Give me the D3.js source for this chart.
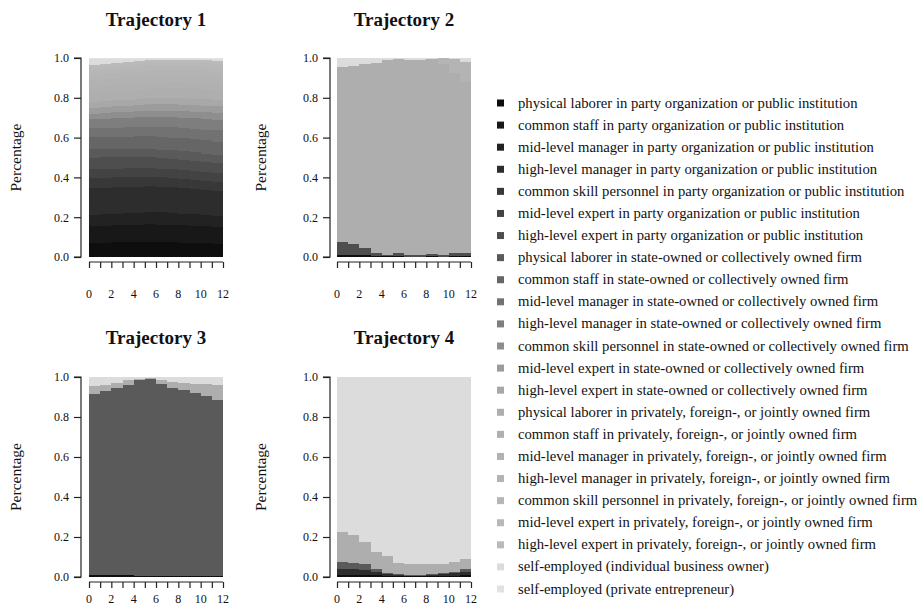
<!DOCTYPE html>
<html><head><meta charset="utf-8">
<script src="https://cdn.jsdelivr.net/npm/d3@7"></script>
<style>
body{margin:0;background:#fff;}
svg text{font-family:"Liberation Serif","Times New Roman",serif;fill:#111;}
</style></head>
<body><svg id="chart" width="921" height="615"></svg>
<script>
// ---------------- DATA ----------------
const timeTicks = [0,1,2,3,4,5,6,7,8,9,10,11,12];
const timeLabels = [0,2,4,6,8,10,12];
const yTicks = [0,0.2,0.4,0.6,0.8,1.0];
const titles = ["Trajectory 1","Trajectory 2","Trajectory 3","Trajectory 4"];
const states = [
 "physical laborer in party organization or public institution",
 "common staff in party organization or public institution",
 "mid-level manager in party organization or public institution",
 "high-level manager in party organization or public institution",
 "common skill personnel in party organization or public institution",
 "mid-level expert in party organization or public institution",
 "high-level expert in party organization or public institution",
 "physical laborer in state-owned or collectively owned firm",
 "common staff in state-owned or collectively owned firm",
 "mid-level manager in state-owned or collectively owned firm",
 "high-level manager in state-owned or collectively owned firm",
 "common skill personnel in state-owned or collectively owned firm",
 "mid-level expert in state-owned or collectively owned firm",
 "high-level expert in state-owned or collectively owned firm",
 "physical laborer in privately, foreign-, or jointly owned firm",
 "common staff in privately, foreign-, or jointly owned firm",
 "mid-level manager in privately, foreign-, or jointly owned firm",
 "high-level manager in privately, foreign-, or jointly owned firm",
 "common skill personnel in privately, foreign-, or jointly owned firm",
 "mid-level expert in privately, foreign-, or jointly owned firm",
 "high-level expert in privately, foreign-, or jointly owned firm",
 "self-employed (individual business owner)",
 "self-employed (private entrepreneur)"
];
const stateColors = ["#0e0e0e","#181818","#222222","#2d2d2d","#383838","#434343","#4e4e4e","#5a5a5a",
 "#666666","#727272","#7e7e7e","#8e8e8e","#9c9c9c","#a8a8a8","#aeaeae","#b0b0b0","#b2b2b2","#b4b4b4",
 "#b6b6b6","#b8b8b8","#bababa","#dcdcdc","#e2e2e2"];

// each: [stateIndex, values for 12 periods]
const traj1 = [
 [0,[0.070,0.072,0.074,0.076,0.077,0.077,0.076,0.075,0.073,0.071,0.069,0.067]],
 [1,[0.085,0.086,0.087,0.088,0.089,0.089,0.089,0.088,0.087,0.086,0.085,0.084]],
 [2,[0.058,0.059,0.060,0.061,0.061,0.062,0.062,0.061,0.060,0.059,0.058,0.057]],
 [3,[0.132,0.132,0.133,0.133,0.133,0.132,0.131,0.130,0.129,0.128,0.127,0.126]],
 [4,[0.050,0.050,0.050,0.050,0.049,0.049,0.048,0.048,0.047,0.047,0.046,0.046]],
 [5,[0.046,0.046,0.045,0.045,0.045,0.044,0.044,0.043,0.043,0.042,0.042,0.041]],
 [6,[0.058,0.057,0.057,0.056,0.056,0.055,0.055,0.054,0.054,0.053,0.053,0.052]],
 [7,[0.042,0.042,0.042,0.042,0.042,0.042,0.042,0.042,0.042,0.042,0.042,0.042]],
 [8,[0.060,0.061,0.062,0.063,0.064,0.065,0.065,0.065,0.066,0.066,0.066,0.066]],
 [9,[0.045,0.046,0.047,0.048,0.049,0.050,0.051,0.052,0.053,0.054,0.055,0.056]],
 [10,[0.045,0.046,0.047,0.048,0.048,0.049,0.050,0.051,0.052,0.053,0.054,0.055]],
 [11,[0.030,0.030,0.031,0.031,0.032,0.032,0.032,0.033,0.033,0.033,0.033,0.033]],
 [12,[0.030,0.030,0.031,0.031,0.031,0.032,0.032,0.032,0.032,0.033,0.033,0.033]],
 [13,[0.030,0.031,0.031,0.031,0.032,0.032,0.032,0.032,0.033,0.033,0.033,0.033]],
 [14,[0.045,0.045,0.046,0.046,0.047,0.047,0.047,0.048,0.048,0.048,0.048,0.048]],
 [15,[0.030,0.030,0.031,0.031,0.031,0.032,0.032,0.032,0.032,0.032,0.032,0.032]],
 [16,[0.035,0.035,0.035,0.036,0.036,0.036,0.036,0.037,0.037,0.037,0.037,0.037]],
 [17,[0.025,0.025,0.025,0.026,0.026,0.026,0.026,0.026,0.026,0.026,0.026,0.026]],
 [18,[0.020,0.020,0.021,0.021,0.021,0.021,0.022,0.022,0.022,0.022,0.022,0.022]],
 [19,[0.015,0.015,0.016,0.016,0.016,0.016,0.016,0.016,0.016,0.016,0.016,0.016]],
 [20,[0.014,0.014,0.014,0.015,0.015,0.015,0.015,0.015,0.015,0.015,0.015,0.015]],
 [21,[0.030,0.026,0.022,0.018,0.014,0.010,0.008,0.006,0.006,0.007,0.009,0.011]],
 [22,[0.005,0.004,0.004,0.003,0.003,0.002,0.002,0.002,0.002,0.002,0.003,0.004]]
];
const traj2 = [
 [0,[0.010,0.010,0.008,0.005,0.003,0.003,0.002,0.002,0.003,0.002,0.003,0.003]],
 [6,[0.065,0.055,0.037,0.015,0.007,0.017,0.008,0.008,0.012,0.008,0.017,0.017]],
 [14,[0.880,0.895,0.925,0.955,0.980,0.975,0.980,0.980,0.980,0.960,0.905,0.860]],
 [17,[0.000,0.000,0.000,0.000,0.000,0.000,0.000,0.000,0.000,0.030,0.070,0.100]],
 [21,[0.045,0.040,0.030,0.025,0.010,0.005,0.010,0.010,0.005,0.000,0.005,0.020]]
];
const traj3 = [
 [0,[0.012,0.012,0.011,0.008,0.007,0.006,0.006,0.006,0.006,0.007,0.007,0.007]],
 [7,[0.905,0.916,0.934,0.952,0.976,0.982,0.961,0.941,0.931,0.913,0.898,0.876]],
 [14,[0.036,0.032,0.025,0.025,0.007,0.007,0.018,0.028,0.033,0.045,0.060,0.077]],
 [21,[0.047,0.040,0.030,0.015,0.010,0.005,0.015,0.025,0.030,0.035,0.035,0.040]]
];
const traj4 = [
 [0,[0.012,0.012,0.010,0.008,0.005,0.004,0.003,0.003,0.004,0.005,0.006,0.008]],
 [3,[0.030,0.030,0.025,0.015,0.008,0.005,0.003,0.003,0.006,0.010,0.012,0.017]],
 [7,[0.035,0.030,0.028,0.017,0.007,0.006,0.004,0.004,0.005,0.007,0.009,0.015]],
 [14,[0.150,0.138,0.114,0.087,0.085,0.057,0.053,0.053,0.048,0.041,0.046,0.048]],
 [21,[0.773,0.790,0.823,0.873,0.895,0.928,0.937,0.937,0.937,0.937,0.927,0.912]]
];
const trajectories = [traj1, traj2, traj3, traj4];

// ---------------- LAYOUT ----------------
const svg = d3.select("#chart");
const panels = [
 {x0:89, x1:223, y0:58, y1:257, ax:81, titleY:26, labY:298, ylabX:21},
 {x0:337, x1:471, y0:58, y1:257, ax:330, titleY:26, labY:298, ylabX:266},
 {x0:89, x1:223, y0:377, y1:577, ax:81, titleY:344, labY:603, ylabX:21},
 {x0:337, x1:471, y0:377, y1:577, ax:330, titleY:344, labY:603, ylabX:266}
];
const keys = d3.range(states.length);

panels.forEach((p, pi) => {
  const g = svg.append("g");
  const x = d3.scaleLinear().domain([0,12]).range([p.x0, p.x1]);
  const y = d3.scaleLinear().domain([0,1]).range([p.y1, p.y0]);

  const series = trajectories[pi];
  const rows = d3.range(12).map(t => {
    const r = {t: t};
    keys.forEach(k => r[k] = 0);
    series.forEach(([k, vals]) => r[k] = vals[t]);
    return r;
  });
  const ext = rows.concat([Object.assign({}, rows[11], {t:12})]);
  const stacked = d3.stack().keys(keys).offset(d3.stackOffsetExpand)(ext);
  const area = d3.area().curve(d3.curveStepAfter)
    .x(d => x(d.data.t)).y0(d => y(d[0])).y1(d => y(d[1]));
  g.selectAll("path.layer").data(stacked.filter(s => d3.max(s, d => d[1]-d[0]) > 0))
    .join("path").attr("class","layer")
    .attr("d", area).attr("fill", s => stateColors[s.key])
    .attr("shape-rendering","crispEdges");

  g.append("text").attr("x", (p.x0+p.x1)/2).attr("y", p.titleY)
    .attr("text-anchor","middle").style("font-weight","bold").style("font-size","19px")
    .text(titles[pi]);

  const ya = g.append("g").attr("transform", `translate(${p.ax},0)`)
    .call(d3.axisLeft(y).tickValues(yTicks).tickFormat(d3.format(".1f")).tickSize(7).tickPadding(5));
  ya.select(".domain").attr("stroke","#222").attr("stroke-width",1.2).attr("d", `M-7,${y(0)}H0V${y(1)}H-7`);
  ya.selectAll(".tick line").attr("stroke","#222").attr("stroke-width",1.2);
  ya.selectAll(".tick text").style("font-size","12px").attr("fill","#222");

  g.append("text").attr("transform", `translate(${p.ylabX},${(p.y0+p.y1)/2}) rotate(-90)`)
    .attr("text-anchor","middle").style("font-size","15.5px").attr("fill","#222").text("Percentage");

  const xa = g.append("g").attr("transform", `translate(0,${p.y1+5})`)
    .call(d3.axisBottom(x).tickValues(timeTicks).tickFormat("").tickSize(6).tickSizeOuter(0));
  xa.select(".domain").attr("stroke","#222").attr("stroke-width",1.2).attr("d", `M${x(0)},0H${x(12)}`);
  xa.selectAll(".tick line").attr("stroke","#222").attr("stroke-width",1.2);
  g.selectAll("text.xl").data(timeLabels).join("text").attr("class","xl")
    .attr("x", d => x(d)).attr("y", p.labY).attr("text-anchor","middle")
    .style("font-size","12px").attr("fill","#222").text(d => d);
});

// legend
const ly = d3.scalePoint().domain(keys).range([103, 589]);
const lg = svg.append("g");
lg.selectAll("rect").data(keys).join("rect")
  .attr("x", 497).attr("y", k => ly(k)-3.5).attr("width", 7).attr("height", 7)
  .attr("fill", k => stateColors[k]);
lg.selectAll("text").data(keys).join("text")
  .attr("x", 518).attr("y", k => ly(k)+4.5)
  .style("font-size","14.7px").attr("fill","#111").text(k => states[k]);
</script></body></html>
